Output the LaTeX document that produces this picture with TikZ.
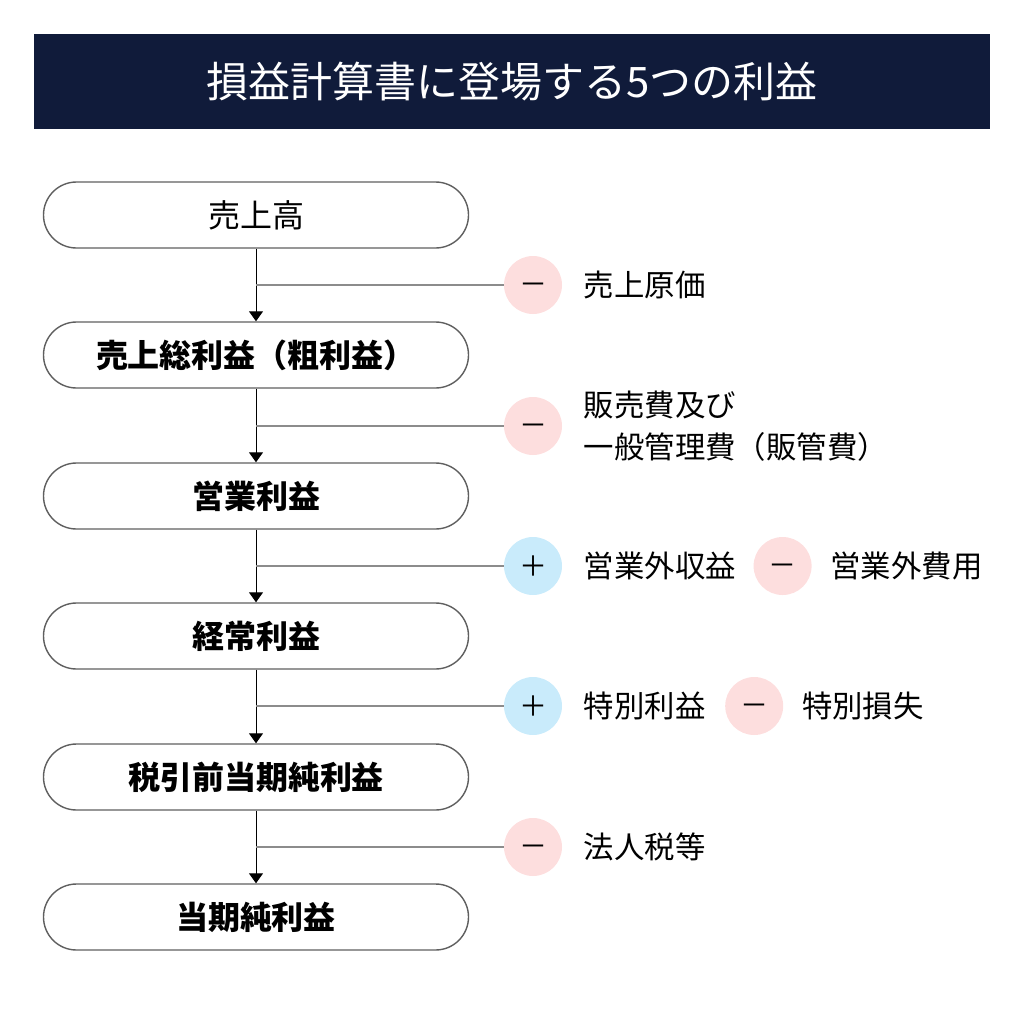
\documentclass[tikz,border=0pt]{standalone}
\usepackage{fontspec}
\setmainfont{Noto Sans CJK JP}
\usepackage{tikz}
\usetikzlibrary{positioning,arrows.meta}
\definecolor{titlenavy}{RGB}{16,27,58}
\definecolor{minuspink}{RGB}{253,222,222}
\definecolor{plusblue}{RGB}{201,235,251}
\definecolor{boxgray}{RGB}{95,95,95}
\definecolor{linegray}{RGB}{140,140,140}
\newcommand{\minussym}{\raisebox{-4.6pt}[0pt][0pt]{－}}

\begin{document}
\begin{tikzpicture}[x=0.5pt,y=-0.5pt,
  stage/.style={draw=boxgray, line width=0.7pt, rectangle, rounded corners=16.5pt,
    minimum width=212.5pt, minimum height=33pt, inner sep=0pt,
    font=\fontsize{16}{18}\selectfont},
  sign/.style={circle, minimum size=29pt, inner sep=0pt, font=\fontsize{14}{16}\selectfont},
  minus/.style={sign, fill=minuspink},
  plus/.style={sign, fill=plusblue},
  item/.style={inner sep=0pt, anchor=west, font=\fontsize{15.2}{21}\selectfont},
  flow/.style={line width=0.5pt, -{Triangle[width=7pt,length=5pt]}},
  branch/.style={draw=linegray, line width=0.7pt}]
\useasboundingbox (0,0) rectangle (1024,1024);

% title bar
\node[fill=titlenavy, text=white, minimum width=478pt, minimum height=47.5pt,
  font=\fontsize{21}{24}\selectfont] (title) at (512,81.5) {損益計算書に登場する5つの利益};

% the five profits, top to bottom
\node[stage] (s1) at (256,215) {売上高};
\node[stage, font=\fontsize{16}{18}\selectfont\bfseries] (s2) at (256,355) {売上総利益（粗利益）};
\node[stage, font=\fontsize{16}{18}\selectfont\bfseries] (s3) at (256,496) {営業利益};
\node[stage, font=\fontsize{16}{18}\selectfont\bfseries] (s4) at (256,636) {経常利益};
\node[stage, font=\fontsize{16}{18}\selectfont\bfseries] (s5) at (256,777) {税引前当期純利益};
\node[stage, font=\fontsize{16}{18}\selectfont\bfseries] (s6) at (256,917) {当期純利益};

% what is added or taken off between them
\node[minus] (m1) at (533,285) {\minussym};
\node[item, right=10.5pt of m1] (l1) {売上原価};

\node[minus] (m2) at (533,426) {\minussym};
\node[item, right=10.5pt of m2, align=left] (l2) {販売費及び\\一般管理費（販管費）};

\node[plus] (p3) at (533,566) {＋};
\node[item, right=10.5pt of p3] (l3) {営業外収益};
\node[minus, right=8.5pt of l3] (m3) {\minussym};
\node[item, right=9pt of m3] (l3b) {営業外費用};

\node[plus] (p4) at (533,706) {＋};
\node[item, right=10.5pt of p4] (l4) {特別利益};
\node[minus, right=9.5pt of l4] (m4) {\minussym};
\node[item, right=9pt of m4] (l4b) {特別損失};

\node[minus] (m5) at (533,847) {\minussym};
\node[item, right=10.5pt of m5] (l5) {法人税等};

% connectors
\foreach \a/\b in {s1/s2,s2/s3,s3/s4,s4/s5,s5/s6}
  \draw[flow] (\a) -- (\b);
\foreach \c/\s in {m1/s1,m2/s2,p3/s3,p4/s4,m5/s5}
  \draw[branch] (\c -| \s) -- (\c);
\end{tikzpicture}
\end{document}
